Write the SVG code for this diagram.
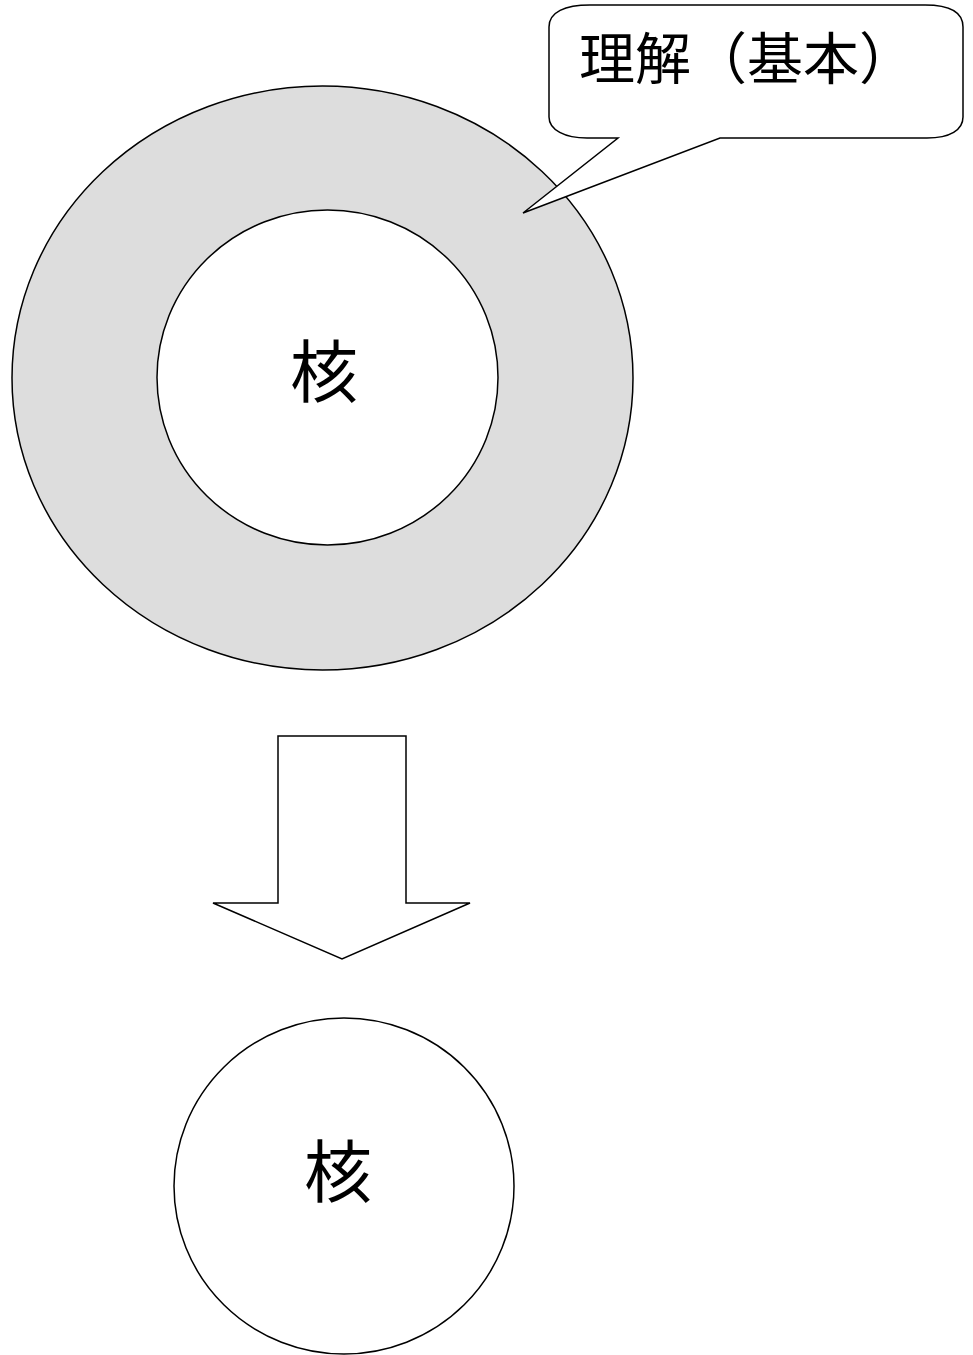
<svg xmlns="http://www.w3.org/2000/svg" width="973" height="1355" viewBox="0 0 973 1355">
<style>
.shape{stroke:#000;stroke-width:1.5;stroke-linejoin:miter}
.lbl{font-family:"Liberation Serif","Noto Sans CJK JP",serif;fill:#000;dominant-baseline:central}
</style>
<rect width="973" height="1355" fill="#fff"/>
<g id="outer-ring">
<ellipse class="shape" cx="322.5" cy="378" rx="310.5" ry="292" fill="#dddddd"/>
</g>
<g id="core-top">
<ellipse class="shape" cx="327.5" cy="377.5" rx="170.5" ry="167.5" fill="#fff"/>
<text class="lbl" x="324" y="374" font-size="68" text-anchor="middle">核</text>
</g>
<g id="callout">
<path class="shape" fill="#fff" d="M549,27 C549,12 565,5 590,5 L925,5 C950,5 963,12 963,27 L963,117 C963,130 950,138 927,138 L720,138 L523,213 L618,138 L587,138 C565,138 549,130 549,117 Z"/>
<text class="lbl" x="579" y="60" font-size="56">理解（基本）</text>
</g>
<g id="connectors">
<path class="shape" fill="#fff" d="M278,736 L406,736 L406,903 L470,903 L342,959 L213,903 L278,903 Z"/>
</g>
<g id="core-bottom">
<ellipse class="shape" cx="344" cy="1186" rx="170" ry="168" fill="#fff"/>
<text class="lbl" x="338" y="1174" font-size="68" text-anchor="middle">核</text>
</g>
</svg>
